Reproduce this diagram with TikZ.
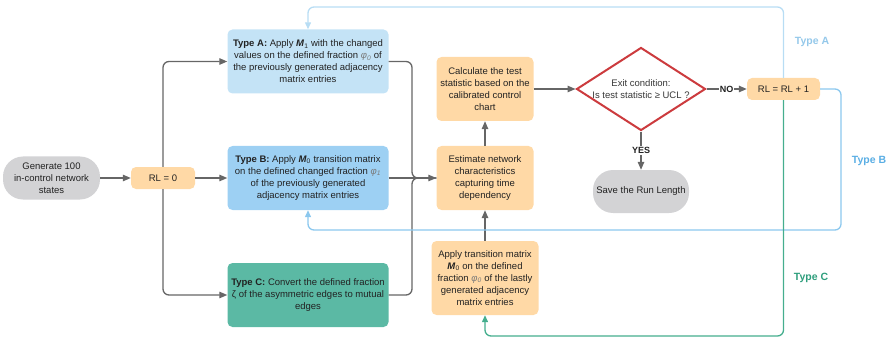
\documentclass[tikz,border=0pt]{standalone}
\usepackage{fontspec}
\setmainfont{Liberation Sans}
\usetikzlibrary{shapes.geometric,arrows.meta}
\definecolor{orangebox}{HTML}{FFD9A6}
\definecolor{typeAbox}{HTML}{C4E3F6}
\definecolor{typeBbox}{HTML}{9DD0F3}
\definecolor{typeCbox}{HTML}{5BB9A4}
\definecolor{pillgray}{HTML}{D3D3D5}
\definecolor{diared}{HTML}{CC3B3E}
\definecolor{conngray}{HTML}{666666}
\definecolor{loopA}{HTML}{B8DDF4}
\definecolor{loopB}{HTML}{8CC8EE}
\definecolor{loopC}{HTML}{45AE8E}
\definecolor{lblA}{HTML}{94C8EA}
\definecolor{lblB}{HTML}{5AAEE4}
\definecolor{lblC}{HTML}{2E9E7C}
\definecolor{txt}{HTML}{222222}
\definecolor{phigray}{HTML}{7A7A7A}
\newcommand{\MMat}[1]{\textbf{\textit{M}}\textsubscript{#1}}
\newcommand{\PhiG}[1]{\textcolor{phigray}{\textit{φ\textsubscript{#1}}}}
\begin{document}
\begin{tikzpicture}[x=1pt,y=-1pt,
  base/.style={align=center, font=\fontsize{9.5}{12}\selectfont, text=txt, inner sep=1pt},
  obox/.style={base, rectangle, rounded corners=5pt, fill=orangebox},
  pill/.style={base, rectangle, rounded corners=20pt, fill=pillgray},
  tbox/.style={base, rectangle, rounded corners=5pt, minimum width=161pt, minimum height=64pt},
  gline/.style={draw=conngray, line width=1.3pt},
  arr/.style={gline, -{Triangle[length=8pt,width=6.5pt]}},
  loopline/.style={line width=1.3pt, rounded corners=6pt, -{Triangle[length=7pt,width=6pt]}},
  yn/.style={font=\fontsize{9}{10}\selectfont\bfseries, text=txt, fill=white, inner sep=1pt},
  typelbl/.style={font=\fontsize{10.5}{12}\selectfont\bfseries}
]
\useasboundingbox (0,0) rectangle (890,339);

% nodes
\node[pill, minimum width=97pt, minimum height=43pt] (gen) at (51.5,178) {Generate 100\\in-control network\\states};
\node[obox, minimum width=64pt, minimum height=22pt] (rl0) at (163,178) {RL = 0};
\node[tbox, fill=typeAbox] (ta) at (308,61.5) {\textbf{Type A:} Apply \MMat{1} with the changed\\values on the defined fraction \PhiG{0} of\\the previously generated adjacency\\matrix entries};
\node[tbox, fill=typeBbox] (tb) at (308,178) {\textbf{Type B:} Apply \MMat{0} transition matrix\\on the defined changed fraction \PhiG{1}\\of the previously generated\\adjacency matrix entries};
\node[tbox, fill=typeCbox] (tc) at (308,295) {\textbf{Type C:} Convert the defined fraction\\ζ of the asymmetric edges to mutual\\edges};
\node[obox, minimum width=97pt, minimum height=64pt] (calc) at (485,89) {Calculate the test\\statistic based on the\\calibrated control\\chart};
\node[obox, minimum width=97pt, minimum height=64pt] (est) at (485,178) {Estimate network\\characteristics\\capturing time\\dependency};
\node[obox, minimum width=107pt, minimum height=74pt] (app) at (485,278) {Apply transition matrix\\\MMat{0} on the defined\\fraction \PhiG{0} of the lastly\\generated adjacency\\matrix entries};
\node[diamond, draw=diared, line width=2pt, fill=white, minimum width=129pt, minimum height=83pt, inner sep=0pt] (dia) at (641,89) {};
\node[base, text=txt!90] (diatext) at (dia.center) {Exit condition:\\Is test statistic ≥ UCL ?};
\node[pill, minimum width=96pt, minimum height=43pt] (save) at (641,191.5) {Save the Run Length};
\node[obox, minimum width=73pt, minimum height=22pt] (rl1) at (783.5,89) {RL = RL + 1};

% type labels
\node[typelbl, text=lblA] (labA) at (812,42) {Type A};
\node[typelbl, text=lblB] (labB) at (869,161) {Type B};
\node[typelbl, text=lblC] (labC) at (811,278) {Type C};

% coordinates
\coordinate (mj) at (412,178);
\coordinate (atop) at (308,7);
\coordinate (bR) at (841,230);
\coordinate (bL) at (308,230);
\coordinate (cB) at (485,336);

% left connectors
\draw[arr] (gen) -- (rl0);
\draw[arr] (rl0) -- (tb);
\draw[arr, rounded corners=6pt] (rl0.north) |- (ta.west);
\draw[arr, rounded corners=6pt] (rl0.south) |- (tc.west);

% merge connectors
\draw[gline, rounded corners=6pt] (ta.east) -| (mj) -- (est.west);
\draw[gline, rounded corners=6pt] (tc.east) -| (mj) -- (est.west);
\draw[arr] (tb.east) -- (est.west);

% middle column
\draw[arr] (est) -- (calc);
\draw[arr] (app) -- (est);
\draw[arr] (calc) -- (dia);
\draw[arr] (dia) -- node[yn] {NO} (rl1);
\draw[arr] (dia) -- node[yn] {YES} (save);

% loops
\draw[loopline, draw=loopA, -{Triangle[length=7pt,width=6pt,fill=loopA]}] (rl1.north) |- (atop) -- (ta.north);
\draw[loopline, draw=loopB] (rl1.east) -| (bR) -- (bL) -- (tb.south);
\draw[loopline, draw=loopC] (rl1.south) |- (cB) -- (app.south);
\end{tikzpicture}
\end{document}
